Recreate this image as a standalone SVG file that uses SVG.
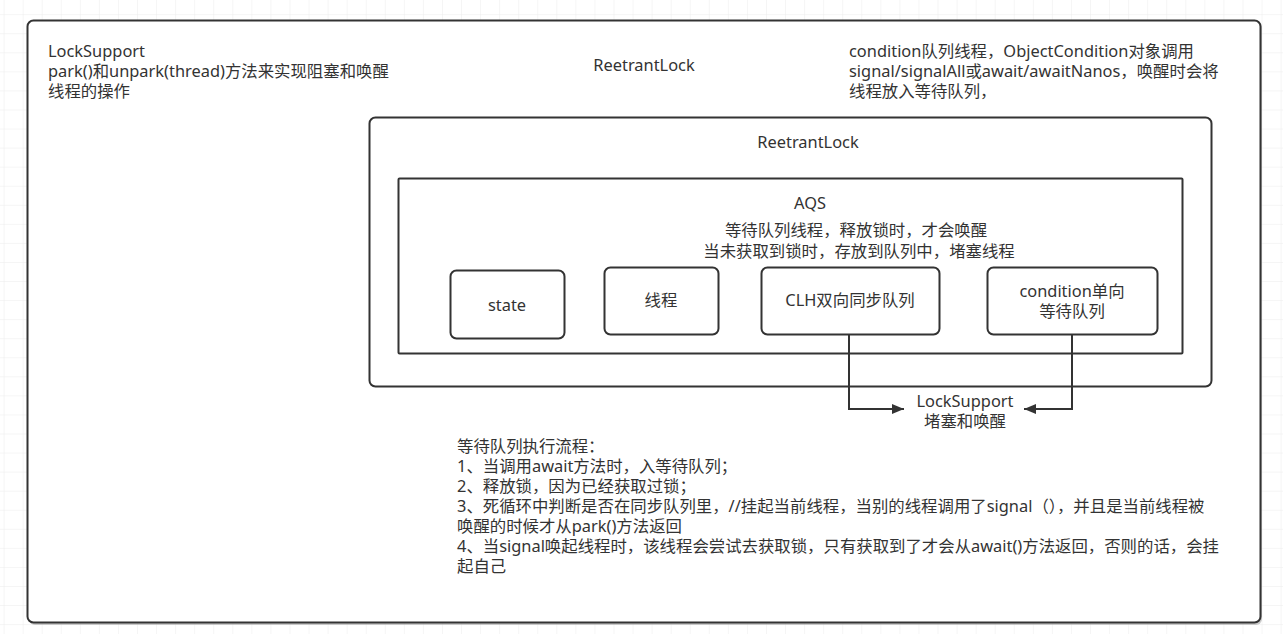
<svg xmlns="http://www.w3.org/2000/svg" width="1283" height="634" viewBox="0 0 1283 634">
<defs>
<pattern id="grid" x="3.6" y="14.2" width="19.06" height="19.06" patternUnits="userSpaceOnUse">
<path d="M0 0H19.06M0 0V19.06" fill="none" stroke="#ececec" stroke-width="1"/>
</pattern>
<marker id="arr" viewBox="0 0 12 10" refX="12" refY="5" markerWidth="12" markerHeight="10" markerUnits="userSpaceOnUse" orient="auto">
<path d="M0 0L12 5L0 10Z" fill="#333"/>
</marker>
</defs>
<style>
.box{fill:#fff;stroke:#333;stroke-width:2}
.t{font-family:"Noto Sans","Noto Sans CJK SC",sans-serif;font-size:16.4px;fill:#333}
.c{text-anchor:middle}
.edge{fill:none;stroke:#333;stroke-width:2}
</style>
<rect width="1283" height="634" fill="#fff"/>
<rect width="1283" height="634" fill="url(#grid)"/>
<g id="outer">
<rect x="29" y="22" width="1233" height="603" rx="6" fill="#999" opacity="0.5"/>
<rect class="box" x="27.5" y="20.5" width="1233" height="602" rx="6"/>
<text class="t" x="48" y="57">LockSupport</text>
<text class="t" x="48" y="77">park()和unpark(thread)方法来实现阻塞和唤醒</text>
<text class="t" x="48" y="97">线程的操作</text>
<text class="t c" x="644" y="71">ReetrantLock</text>
<text class="t" x="849" y="57">condition队列线程，ObjectCondition对象调用</text>
<text class="t" x="849" y="77">signal/signalAll或await/awaitNanos，唤醒时会将</text>
<text class="t" x="849" y="97">线程放入等待队列，</text>
</g>
<g id="reetrantlock">
<rect class="box" x="369.5" y="117.5" width="842" height="269" rx="6"/>
<text class="t c" x="808" y="148">ReetrantLock</text>
</g>
<g id="aqs">
<rect class="box" x="398.5" y="178.5" width="784" height="175" rx="1"/>
<text class="t c" x="810" y="209">AQS</text>
<text class="t c" x="856" y="236">等待队列线程，释放锁时，才会唤醒</text>
<text class="t c" x="859" y="257">当未获取到锁时，存放到队列中，堵塞线程</text>
</g>
<g id="state">
<rect class="box" x="450.5" y="270.5" width="114" height="68" rx="6"/>
<text class="t c" x="507" y="311">state</text>
</g>
<g id="thread">
<rect class="box" x="604.5" y="267.5" width="114" height="67" rx="6"/>
<text class="t c" x="661" y="306">线程</text>
</g>
<g id="clh">
<rect class="box" x="761.5" y="267.5" width="178" height="67" rx="6"/>
<text class="t c" x="850" y="306">CLH双向同步队列</text>
</g>
<g id="condition">
<rect class="box" x="987.5" y="267.5" width="170" height="67" rx="6"/>
<text class="t c" x="1072" y="297">condition单向</text>
<text class="t c" x="1072" y="317">等待队列</text>
</g>
<g id="connectors">
<path class="edge" d="M849 335V409H904" marker-end="url(#arr)"/>
<path class="edge" d="M1072 335V409H1024" marker-end="url(#arr)"/>
</g>
<g id="locksupport">
<text class="t c" x="965" y="407">LockSupport</text>
<text class="t c" x="965" y="427">堵塞和唤醒</text>
</g>
<g id="flow">
<text class="t" x="457" y="452">等待队列执行流程：</text>
<text class="t" x="457" y="472">1、当调用await方法时，入等待队列；</text>
<text class="t" x="457" y="492">2、释放锁，因为已经获取过锁；</text>
<text class="t" x="457" y="512">3、死循环中判断是否在同步队列里，//挂起当前线程，当别的线程调用了signal（），并且是当前线程被</text>
<text class="t" x="457" y="532">唤醒的时候才从park()方法返回</text>
<text class="t" x="457" y="552">4、当signal唤起线程时，该线程会尝试去获取锁，只有获取到了才会从await()方法返回，否则的话，会挂</text>
<text class="t" x="457" y="572">起自己</text>
</g>
</svg>
